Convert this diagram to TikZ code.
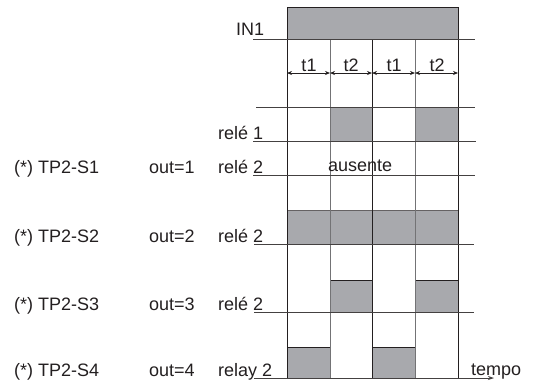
\documentclass[tikz,border=0pt]{standalone}
\usepackage{fontspec}
\setmainfont{Liberation Sans}
\usetikzlibrary{arrows.meta}
\definecolor{sig}{RGB}{168,169,173}
\definecolor{ink}{RGB}{35,31,32}
\definecolor{gline}{RGB}{115,115,117}
\begin{document}
\begin{tikzpicture}[x=1bp,y=-1bp,
  lbl/.style={anchor=base west,inner sep=0pt,font=\fontsize{18bp}{21bp}\selectfont,text=ink},
  tlbl/.style={lbl,anchor=base},
  hline/.style={draw=ink!85,line width=0.8bp},
  vblack/.style={draw=ink,line width=0.9bp},
  vgray/.style={draw=gline,line width=0.9bp},
  pulse/.style={fill=sig,draw=ink,line width=0.8bp},
  band/.style={fill=sig,draw=none},
  dim/.style={draw=ink,line width=0.7bp,{Stealth[length=5bp,width=4bp]}-{Stealth[length=5bp,width=4bp]}}]
\useasboundingbox (0,0) rectangle (537,380);
% fills
\filldraw[pulse] (287,7) rectangle (458,39);
\filldraw[pulse] (330,107) rectangle (372,141);
\filldraw[pulse] (415,107) rectangle (458,141);
\fill[band] (287,210) rectangle (458,244);
\draw[draw=ink!70,line width=0.6bp] (287,210) -- (458,210);
\filldraw[pulse] (330,280) rectangle (372,312);
\filldraw[pulse] (415,280) rectangle (458,312);
\filldraw[pulse] (287,347) rectangle (330,378);
\filldraw[pulse] (372,347) rectangle (415,378);
% vertical lines
\draw[vblack] (287,7) -- (287,378);
\draw[vgray] (330,39) -- (330,378);
\draw[vblack] (372,39) -- (372,378);
\draw[vgray] (415,39) -- (415,378);
\draw[vblack] (458,7) -- (458,378);
% horizontal lines
\draw[hline] (253,39) -- (475,39);
\draw[hline] (256,107) -- (475,107);
\draw[hline] (253,141) -- (476,141);
\draw[hline] (253,175) -- (475,175);
\draw[hline] (254,244) -- (474,244);
\draw[hline] (254,312) -- (474,312);
\draw[hline,-{Stealth[length=6bp,width=4bp]}] (254,378) -- (494,378);
% time intervals
\draw[dim] (287,73) -- (330,73);
\draw[dim] (330,73) -- (372,73);
\draw[dim] (372,73) -- (415,73);
\draw[dim] (415,73) -- (458,73);
\node[tlbl] (ta) at (309,71) {t1};
\node[tlbl] (tb) at (351,71) {t2};
\node[tlbl] (tc) at (394,71) {t1};
\node[tlbl] (td) at (437,71) {t2};
% labels
\node[lbl] (in1) at (236,35) {IN1};
\node[lbl] (r1) at (218,139) {relé 1};
\node[lbl] (s1) at (14,173) {(*) TP2-S1};
\node[lbl] (o1) at (149,173) {out=1};
\node[lbl] (r21) at (218,173) {relé 2};
\node[lbl] (aus) at (328,171) {ausente};
\node[lbl] (s2) at (14,242.5) {(*) TP2-S2};
\node[lbl] (o2) at (149,242.5) {out=2};
\node[lbl] (r22) at (218,242.5) {relé 2};
\node[lbl] (s3) at (14,310.5) {(*) TP2-S3};
\node[lbl] (o3) at (149,310.5) {out=3};
\node[lbl] (r23) at (218,310.5) {relé 2};
\node[lbl] (s4) at (14,376) {(*) TP2-S4};
\node[lbl] (o4) at (149,376) {out=4};
\node[lbl] (r24) at (218,376) {relay 2};
\node[lbl] (tempo) at (471,375) {tempo};
\end{tikzpicture}
\end{document}
